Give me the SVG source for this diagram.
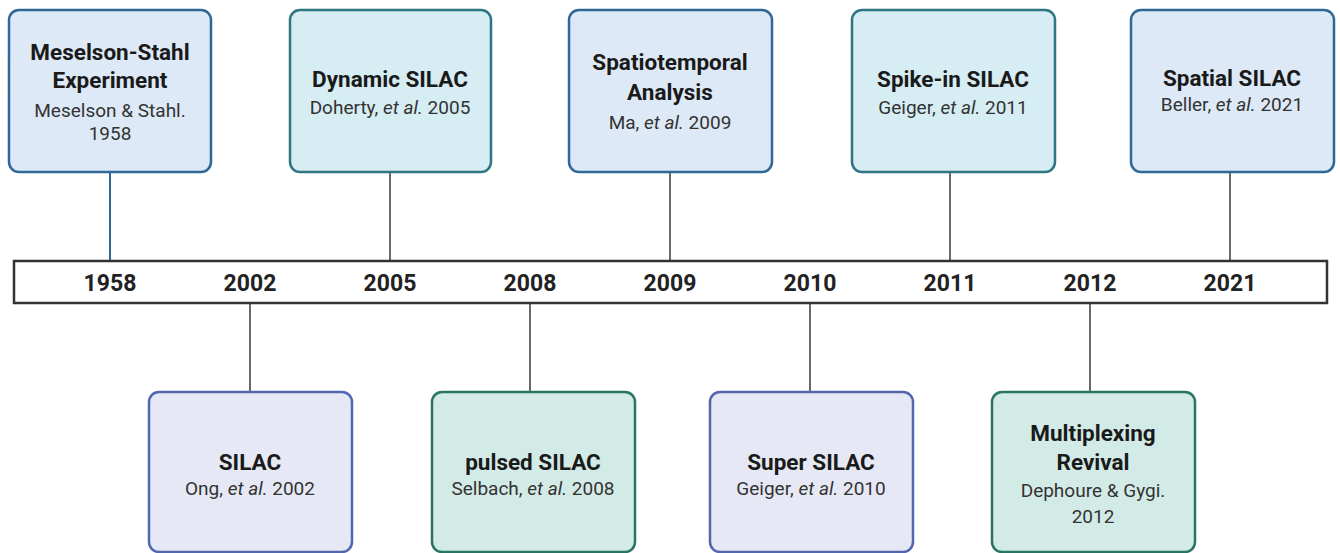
<svg xmlns="http://www.w3.org/2000/svg" width="1340" height="553" viewBox="0 0 1340 553">
<style>
.box{stroke-width:2.5}
.blue{fill:#dde9f6;stroke:#2f6796}
.teal{fill:#d6edf3;stroke:#2e7681}
.lav{fill:#e6e9f5;stroke:#5366b0}
.green{fill:#d3ebe6;stroke:#2a7464}
.t{font-family:Roboto,"Liberation Sans",sans-serif;font-weight:bold;font-size:22.5px;fill:#1a1a1a;text-anchor:middle}
.s{font-family:Roboto,"Liberation Sans",sans-serif;font-size:19px;fill:#333;text-anchor:middle}
.y{font-family:Roboto,"Liberation Sans",sans-serif;font-weight:bold;font-size:23px;fill:#222;text-anchor:middle}
.i{font-style:italic}
.c{stroke:#6b6b6b;stroke-width:2;fill:none}
</style>
<g id="connectors">
<line x1="110" y1="173" x2="110" y2="261" stroke="#2f6796" stroke-width="2"/>
<line class="c" x1="390" y1="173" x2="390" y2="261"/>
<line class="c" x1="670" y1="173" x2="670" y2="261"/>
<line class="c" x1="950" y1="173" x2="950" y2="261"/>
<line class="c" x1="1230" y1="173" x2="1230" y2="261"/>
<line class="c" x1="250" y1="303" x2="250" y2="392"/>
<line class="c" x1="530" y1="303" x2="530" y2="392"/>
<line class="c" x1="810" y1="303" x2="810" y2="392"/>
<line class="c" x1="1090" y1="303" x2="1090" y2="392"/>
</g>
<g id="timeline">
<rect x="14" y="261" width="1313" height="42" fill="#fff" stroke="#333" stroke-width="2.5"/>
<text class="y" x="110" y="291">1958</text>
<text class="y" x="250" y="291">2002</text>
<text class="y" x="390" y="291">2005</text>
<text class="y" x="530" y="291">2008</text>
<text class="y" x="670" y="291">2009</text>
<text class="y" x="810" y="291">2010</text>
<text class="y" x="950" y="291">2011</text>
<text class="y" x="1090" y="291">2012</text>
<text class="y" x="1230" y="291">2021</text>
</g>
<g id="n1958">
<rect class="box blue" x="9" y="10" width="202" height="162" rx="10"/>
<text class="t" x="110" y="60">Meselson-Stahl</text>
<text class="t" x="110" y="88">Experiment</text>
<text class="s" x="110" y="117">Meselson &amp; Stahl.</text>
<text class="s" x="110" y="140">1958</text>
</g>
<g id="n2005">
<rect class="box teal" x="290" y="10" width="201" height="162" rx="10"/>
<text class="t" x="390" y="87">Dynamic SILAC</text>
<text class="s" x="390" y="114">Doherty, <tspan class="i">et al.</tspan> 2005</text>
</g>
<g id="n2009">
<rect class="box blue" x="569" y="10" width="203" height="162" rx="10"/>
<text class="t" x="670" y="70">Spatiotemporal</text>
<text class="t" x="670" y="100">Analysis</text>
<text class="s" x="670" y="129">Ma, <tspan class="i">et al.</tspan> 2009</text>
</g>
<g id="n2011">
<rect class="box teal" x="852" y="10" width="203" height="162" rx="10"/>
<text class="t" x="953" y="87">Spike-in SILAC</text>
<text class="s" x="953" y="114">Geiger, <tspan class="i">et al.</tspan> 2011</text>
</g>
<g id="n2021">
<rect class="box blue" x="1131" y="10" width="203" height="162" rx="10"/>
<text class="t" x="1232" y="86">Spatial SILAC</text>
<text class="s" x="1232" y="111">Beller, <tspan class="i">et al.</tspan> 2021</text>
</g>
<g id="n2002">
<rect class="box lav" x="149" y="392" width="203" height="160" rx="10"/>
<text class="t" x="250" y="470">SILAC</text>
<text class="s" x="250" y="495">Ong, <tspan class="i">et al.</tspan> 2002</text>
</g>
<g id="n2008">
<rect class="box green" x="432" y="392" width="203" height="160" rx="10"/>
<text class="t" x="533" y="470">pulsed SILAC</text>
<text class="s" x="533" y="495">Selbach, <tspan class="i">et al.</tspan> 2008</text>
</g>
<g id="n2010">
<rect class="box lav" x="710" y="392" width="203" height="160" rx="10"/>
<text class="t" x="811" y="470">Super SILAC</text>
<text class="s" x="811" y="495">Geiger, <tspan class="i">et al.</tspan> 2010</text>
</g>
<g id="n2012">
<rect class="box green" x="992" y="392" width="203" height="160" rx="10"/>
<text class="t" x="1093" y="441">Multiplexing</text>
<text class="t" x="1093" y="470">Revival</text>
<text class="s" x="1093" y="497">Dephoure &amp; Gygi.</text>
<text class="s" x="1093" y="523">2012</text>
</g>
</svg>
